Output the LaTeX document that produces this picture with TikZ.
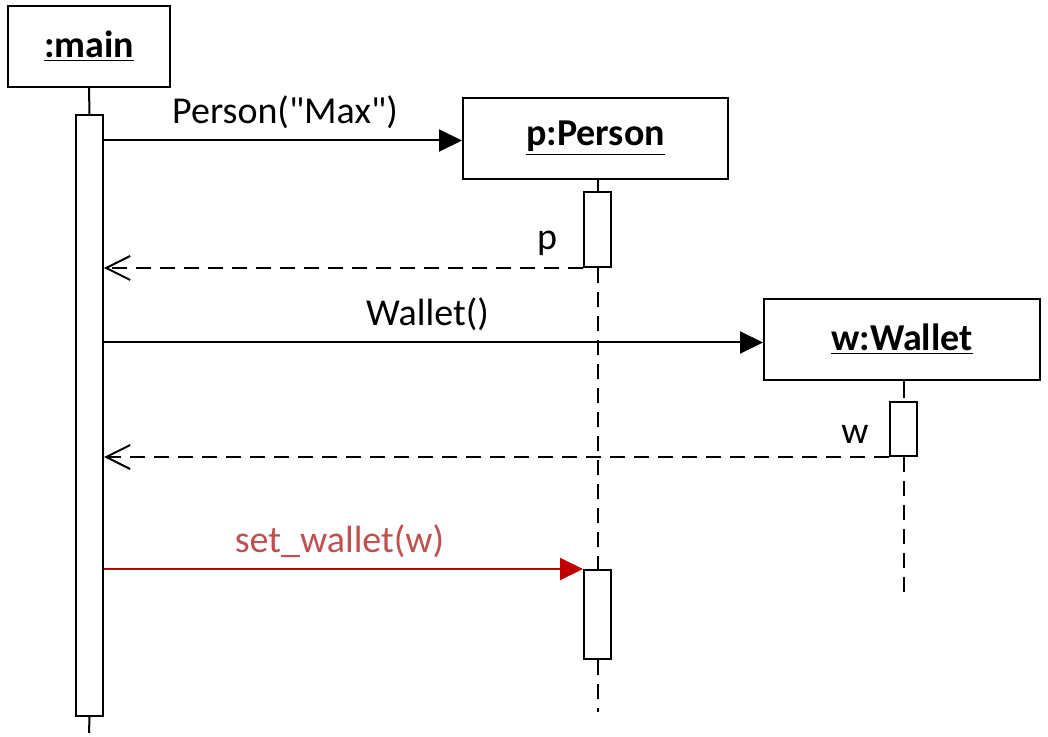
\documentclass[tikz,border=0pt]{standalone}
\usepackage{fontspec}
\setmainfont{Carlito}[Ligatures=TeXOff]
\usepackage{xcolor}
\usetikzlibrary{arrows.meta,positioning,calc}
\definecolor{msgred}{RGB}{192,0,0}
\definecolor{lblred}{RGB}{192,80,77}

\begin{document}
\begin{tikzpicture}[
        x=0.5pt, y=-0.5pt,
        every node/.style={font=\fontsize{19}{23}\selectfont},
        lifehead/.style={rectangle, draw, line width=1pt, minimum height=40.5pt, inner sep=0pt},
        activation/.style={rectangle, draw, line width=1pt, fill=white, minimum width=13.5pt, inner sep=0pt},
        call/.style={line width=1pt, -{Triangle[length=11.5pt, width=11pt]}},
        reply/.style={line width=1pt, dash pattern=on 7.5pt off 4.5pt, -{Straight Barb[length=12pt, width=12pt, line width=1pt]}},
        lifeline/.style={line width=1pt, dash pattern=on 7.5pt off 4.5pt}
    ]
        \useasboundingbox (0,0) rectangle (1048,737);

        % heads of the lifelines
        \node[lifehead, minimum width=81pt] (main) at (89,46.5) {\underline{\textbf{:main}}};
        \node[lifehead, minimum width=132.5pt] (person) at (595.5,138.5) {\underline{\textbf{p:Person}}};
        \node[lifehead, minimum width=138pt] (wallet) at (902,339.5) {\underline{\textbf{w:Wallet}}};

        % activations
        \node[activation, minimum height=300.5pt] (actmain) at (89.5,415.5) {};
        \node[activation, minimum height=37.5pt] (actperson) at (597.5,229.5) {};
        \node[activation, minimum height=27pt] (actwallet) at (903.5,429) {};
        \node[activation, minimum height=44.5pt] (actset) at (597.5,614.5) {};

        \coordinate (mainend) at (89,733);
        \coordinate (personend) at (597.5,712);
        \coordinate (walletend) at (903.5,598);

        % lifelines
        \draw[line width=1pt] (main.south) -- (actmain.north);
        \draw[line width=1pt] (actmain.south) -- (mainend);
        \draw[line width=1pt] (person.south -| actperson.north) -- (actperson.north);
        \draw[lifeline] (actperson.south) -- (actset.north);
        \draw[lifeline] (actset.south) -- (personend);
        \draw[line width=1pt] (wallet.south -| actwallet.north) -- ++(0,17);
        \draw[lifeline] (actwallet.south) -- (walletend);

        % messages
        \draw[call] ($(actmain.east |- person.west)+(0,2)$) -- node[above=2pt, xshift=1pt] {Person("Max")} ($(person.west)+(0,2)$);
        \draw[reply] (actperson.south west) -- (actmain.east |- actperson.south west);
        \node at (547,243) {p};
        \draw[call] ($(actmain.east |- wallet.west)+(0,3)$) -- node[above=2pt, xshift=-3pt] {Wallet()} ($(wallet.west)+(0,3)$);
        \draw[reply] (actwallet.south west) -- (actmain.east |- actwallet.south west);
        \node at (855,434) {w};
        \draw[call, msgred] (actmain.east |- actset.north west) -- node[above=2pt, text=lblred, xshift=-2pt] {set\_wallet(w)} (actset.north west);
    \end{tikzpicture}
\end{document}
